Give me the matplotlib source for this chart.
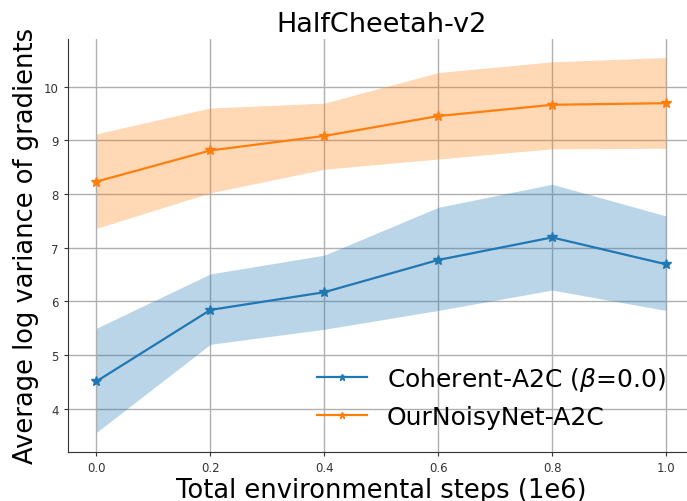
import numpy as np, matplotlib; matplotlib.use("Agg")
import matplotlib.pyplot as plt

steps = [0.0, 0.2, 0.4, 0.6, 0.8, 1.0]
coh_mean = [4.51, 5.84, 6.17, 6.77, 7.19, 6.69]
coh_lo = [3.56, 5.20, 5.48, 5.83, 6.21, 5.83]
coh_hi = [5.50, 6.51, 6.86, 7.75, 8.18, 7.59]
our_mean = [8.23, 8.81, 9.08, 9.45, 9.66, 9.69]
our_lo = [7.36, 8.02, 8.46, 8.65, 8.84, 8.85]
our_hi = [9.12, 9.60, 9.69, 10.26, 10.46, 10.54]
labels = [r"Coherent-A2C ($\beta$=0.0)", "OurNoisyNet-A2C"]

fig = plt.figure(figsize=(6.87, 5.02), dpi=100)
ax = fig.add_axes([68/687, 1-452.7/502, 626.5/687, 412.7/502])
for m, lo, hi, c, lab in [(coh_mean, coh_lo, coh_hi, "#1f77b4", labels[0]),
                          (our_mean, our_lo, our_hi, "#ff7f0e", labels[1])]:
    ax.fill_between(steps, lo, hi, color=c, alpha=0.3, lw=0)
    ax.plot(steps, m, color=c, marker="*", ms=7, lw=1.6, label=lab)
ax.set_xlim(-0.05, 1.05); ax.set_ylim(3.2, 10.885)
ax.grid(True, color="#b0b0b0", lw=1)
ax.set_axisbelow(True)
for s in ("top", "right"): ax.spines[s].set_visible(False)
ax.spines["left"].set_color("#333333"); ax.spines["bottom"].set_color("#333333")
ax.tick_params(labelsize=8.5, length=3, color="#333333", labelcolor="#333333")
ax.set_xticks(steps)
ax.set_xlabel("Total environmental steps (1e6)", fontsize=18.5, labelpad=2)
ax.set_ylabel("Average log variance of gradients", fontsize=18.5, labelpad=4)
ax.set_title("HalfCheetah-v2", fontsize=19.5, pad=6)
ax.legend(loc="lower right", fontsize=18, frameon=False, bbox_to_anchor=(0.99, 0.0),
          handlelength=2.0, handletextpad=0.8, labelspacing=0.5, markerscale=0.7)
fig.savefig("out.png", dpi=100)
